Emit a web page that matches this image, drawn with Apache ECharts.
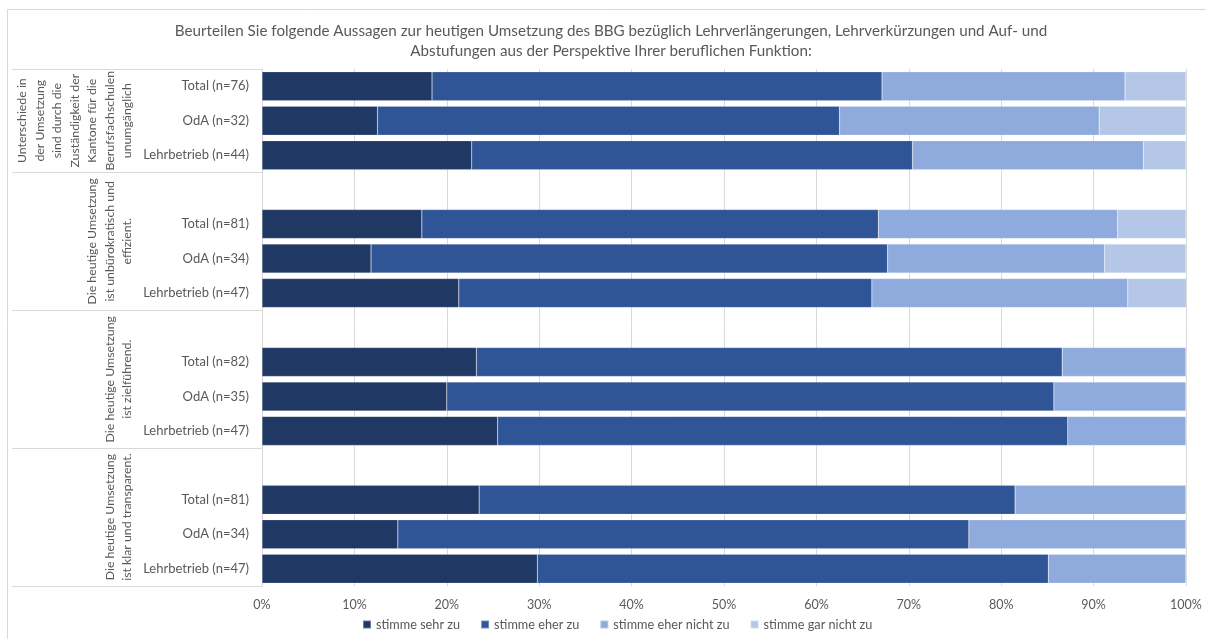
<!DOCTYPE html>
<html>
<head>
<meta charset="utf-8">
<script src="https://cdn.jsdelivr.net/npm/echarts@6/dist/echarts.min.js"></script>
<style>
  html, body { margin: 0; padding: 0; background: #ffffff; }
  #chart { width: 1206px; height: 639px; }
</style>
</head>
<body>
<div id="chart"></div>
<script>
// Row labels (empty strings are spacer rows between statement blocks)
const categories = [
  'Total (n=76)', 'OdA (n=32)', 'Lehrbetrieb (n=44)',
  '', 'Total (n=81)', 'OdA (n=34)', 'Lehrbetrieb (n=47)',
  '', 'Total (n=82)', 'OdA (n=35)', 'Lehrbetrieb (n=47)',
  '', 'Total (n=81)', 'OdA (n=34)', 'Lehrbetrieb (n=47)'
];

const seriesNames = ['stimme sehr zu', 'stimme eher zu', 'stimme eher nicht zu', 'stimme gar nicht zu'];

// Shares in percent per row
const sehrZu    = [18.4, 12.5, 22.7, null, 17.3, 11.8, 21.3, null, 23.2, 20.0, 25.5, null, 23.5, 14.7, 29.8];
const eherZu    = [48.7, 50.0, 47.7, null, 49.4, 55.9, 44.7, null, 63.4, 65.7, 61.7, null, 58.0, 61.8, 55.3];
const eherNicht = [26.3, 28.1, 25.0, null, 25.9, 23.5, 27.7, null, 13.4, 14.3, 12.8, null, 18.5, 23.5, 14.9];
const garNicht  = [ 6.6,  9.4,  4.6, null,  7.4,  8.8,  6.4, null,  0.0,  0.0,  0.0, null,  0.0,  0.0,  0.0];

// Statement blocks: label text and the first/last row each one spans
const groupLabels = [
  'Unterschiede in\nder Umsetzung\nsind durch die\nZuständigkeit der\nKantone für die\nBerufsfachschulen\nunumgänglich',
  'Die heutige Umsetzung\nist unbürokratisch und\neffizient.',
  'Die heutige Umsetzung\nist zielführend.',
  'Die heutige Umsetzung\nist klar und transparent.'
];
const groupFirstRow = [0, 3, 7, 11];
const groupLastRow  = [2, 6, 10, 14];

const xTicks = [0, 10, 20, 30, 40, 50, 60, 70, 80, 90, 100];

const colors = ['#203864', '#2F5597', '#8FAADC', '#B4C7E7'];
const textColor = '#595959';
const lineColor = '#D9D9D9';
const fontFamily = 'Lato, "Open Sans", sans-serif';

const chart = echarts.init(document.getElementById('chart'), null, { renderer: 'canvas' });

const dataSets = [sehrZu, eherZu, eherNicht, garNicht];

const option = {
  backgroundColor: '#ffffff',
  animation: false,
  textStyle: { fontFamily: fontFamily },
  title: {
    text: 'Beurteilen Sie folgende Aussagen zur heutigen Umsetzung des BBG bezüglich Lehrverlängerungen, Lehrverkürzungen und Auf- und\nAbstufungen aus der Perspektive Ihrer beruflichen Funktion:',
    left: 606,
    textAlign: 'center',
    top: 16,
    textStyle: {
      fontFamily: fontFamily,
      fontSize: 15.2,
      fontWeight: 'normal',
      color: textColor,
      lineHeight: 20
    }
  },
  legend: {
    bottom: 3,
    left: 357,
    itemWidth: 8,
    itemHeight: 8,
    itemGap: 20,
    icon: 'rect',
    textStyle: { color: textColor, fontSize: 12.7, fontFamily: fontFamily },
    data: seriesNames
  },
  grid: {
    left: 262,
    right: 20,
    top: 69,
    bottom: 53,
    containLabel: false
  },
  xAxis: {
    type: 'value',
    min: xTicks[0],
    max: xTicks[xTicks.length - 1],
    interval: 10,
    axisLine: { show: false },
    axisTick: { show: false },
    splitLine: { show: true, lineStyle: { color: lineColor, width: 1 } },
    axisLabel: {
      color: textColor,
      fontSize: 12.5,
      margin: 12,
      formatter: '{value}%'
    }
  },
  yAxis: {
    type: 'category',
    inverse: true,
    data: categories,
    axisLine: { show: true, lineStyle: { color: lineColor } },
    axisTick: { show: false },
    axisLabel: { color: textColor, fontSize: 13, margin: 13 }
  },
  series: seriesNames.map((name, i) => ({
    name: name,
    type: 'bar',
    stack: 'total',
    barCategoryGap: '16%',
    data: dataSets[i],
    itemStyle: { color: colors[i], borderColor: 'rgba(255,255,255,0.35)', borderWidth: 0.5 },
    emphasis: { disabled: true }
  }))
};

chart.setOption(option);

// Block separators and rotated block labels, placed from the category scale
function drawBlocks() {
  const c0 = chart.convertToPixel({ yAxisIndex: 0 }, 0);
  const c1 = chart.convertToPixel({ yAxisIndex: 0 }, 1);
  const band = c1 - c0;
  const rowTop = (r) => chart.convertToPixel({ yAxisIndex: 0 }, r) - band / 2;
  const rowBottom = (r) => chart.convertToPixel({ yAxisIndex: 0 }, r) + band / 2;
  const axisX = chart.convertToPixel({ xAxisIndex: 0 }, 0);

  const elements = [];
  // outer frame
  elements.push({
    type: 'rect',
    shape: { x: 7.5, y: 9.5, width: 1220, height: 660 },
    style: { fill: 'none', stroke: lineColor, lineWidth: 1 },
    silent: true
  });

  const boundaries = [rowTop(groupFirstRow[0])];
  groupLastRow.forEach((r) => boundaries.push(rowBottom(r)));
  boundaries.forEach((y) => {
    const yy = Math.round(y) + 0.5;
    elements.push({
      type: 'line',
      shape: { x1: 12, y1: yy, x2: axisX, y2: yy },
      style: { stroke: lineColor, lineWidth: 1 },
      silent: true
    });
  });

  groupLabels.forEach((label, g) => {
    const yc = (rowTop(groupFirstRow[g]) + rowBottom(groupLastRow[g])) / 2;
    elements.push({
      type: 'text',
      x: 136,
      y: yc,
      rotation: Math.PI / 2,
      style: {
        text: label,
        fill: textColor,
        font: '12.3px ' + fontFamily,
        align: 'center',
        verticalAlign: 'bottom',
        lineHeight: 17.5
      },
      silent: true
    });
  });

  chart.setOption({ graphic: { elements: elements } });
}

drawBlocks();
</script>
</body>
</html>
